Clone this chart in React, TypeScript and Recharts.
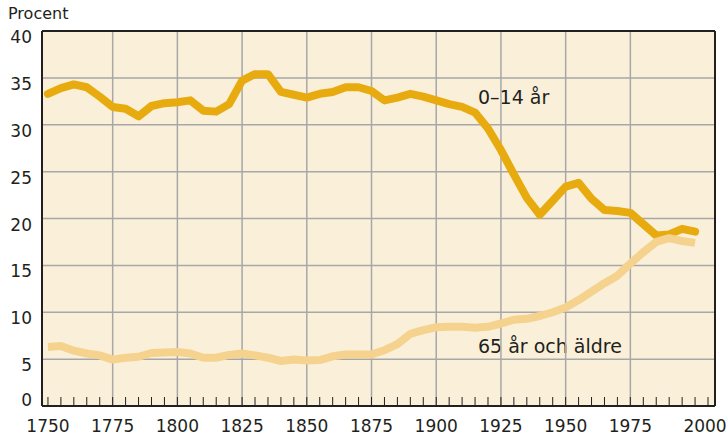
import {
  LineChart,
  Line,
  XAxis,
  YAxis,
  CartesianGrid,
  ReferenceLine,
} from 'recharts';

const YEARS = [
  1750, 1755, 1760, 1765, 1770, 1775, 1780, 1785, 1790, 1795,
  1800, 1805, 1810, 1815, 1820, 1825, 1830, 1835, 1840, 1845,
  1850, 1855, 1860, 1865, 1870, 1875, 1880, 1885, 1890, 1895,
  1900, 1905, 1910, 1915, 1920, 1925, 1930, 1935, 1940, 1945,
  1950, 1955, 1960, 1965, 1970, 1975, 1980, 1985, 1990, 1995,
  2000,
];

const AGE_0_14 = [
  33.3, 33.9, 34.3, 34.0, 33.0, 31.9, 31.7, 30.9, 32.0, 32.3,
  32.4, 32.6, 31.5, 31.4, 32.2, 34.7, 35.4, 35.4, 33.5, 33.2,
  32.9, 33.3, 33.5, 34.0, 34.0, 33.6, 32.6, 32.9, 33.3, 33.0,
  32.6, 32.2, 31.9, 31.3, 29.6, 27.3, 24.7, 22.2, 20.4, 21.9,
  23.4, 23.8, 22.1, 20.9, 20.8, 20.6, 19.4, 18.2, 18.3, 18.9,
  18.6,
];

const AGE_65_PLUS = [
  6.3, 6.4, 5.9, 5.6, 5.4, 4.95, 5.15, 5.25, 5.65, 5.7,
  5.75, 5.6, 5.15, 5.15, 5.45, 5.6, 5.4, 5.15, 4.8, 4.95,
  4.85, 4.9, 5.3, 5.5, 5.5, 5.5, 5.95, 6.6, 7.7, 8.1,
  8.4, 8.45, 8.45, 8.35, 8.45, 8.8, 9.2, 9.3, 9.6, 10.0,
  10.5, 11.3, 12.2, 13.1, 13.9, 15.2, 16.4, 17.5, 17.9, 17.6,
  17.4,
];

const Y_TICKS = [0, 5, 10, 15, 20, 25, 30, 35, 40];
const X_LABELS = [1750, 1775, 1800, 1825, 1850, 1875, 1900, 1925, 1950, 1975, 2000];
const X_MINOR = [...YEARS, 2005];
const GRID_YEARS = [1775, 1800, 1825, 1850, 1875, 1900, 1925, 1950, 1975];
const GRID_VALUES = [5, 10, 15, 20, 25, 30, 35];

const X_MIN = 1747.7;
const X_MAX = 2007.7;

const data = YEARS.map((year, i) => ({
  year,
  young: AGE_0_14[i],
  old: AGE_65_PLUS[i],
}));

const FONT = '"DejaVu Sans", sans-serif';
const TEXT = '#231f20';
const BORDER = '#231f20';
const GRID = '#a7a7a7';
const BG = '#faf0da';

function XTick(props: any) {
  const { x, y, payload } = props;
  const year = payload.value as number;
  const labelled = X_LABELS.includes(year);
  return (
    <g>
      <line x1={x} x2={x} y1={y} y2={y - 9} stroke={BORDER} strokeWidth={1} />
      {labelled && (
        <text
          x={year === 2000 ? x + 10 : x}
          y={y + 26}
          textAnchor="middle"
          fontFamily={FONT}
          fontSize={17}
          fill={TEXT}
        >
          {year}
        </text>
      )}
    </g>
  );
}

function YTick(props: any) {
  const { x, y, payload } = props;
  const v = payload.value as number;
  return (
    <text
      x={x - 10}
      y={v === 0 ? y : y + 12}
      textAnchor="end"
      fontFamily={FONT}
      fontSize={17}
      fill={TEXT}
    >
      {v}
    </text>
  );
}

export default function App() {
  return (
    <div style={{ position: 'absolute', left: 0, top: 0, width: 728, height: 438, background: '#fff' }}>
      <div
        style={{
          position: 'absolute',
          left: 8,
          top: 4,
          fontFamily: FONT,
          fontSize: 16,
          color: TEXT,
        }}
      >
        Procent
      </div>
      <LineChart
        width={728}
        height={438}
        data={data}
        margin={{ top: 31, right: 13, bottom: 0, left: 0 }}
      >
        <CartesianGrid fill={BG} stroke="none" horizontal={false} vertical={false} />
        {GRID_VALUES.map((v) => (
          <ReferenceLine key={'h' + v} y={v} stroke={GRID} strokeWidth={1.5} />
        ))}
        {GRID_YEARS.map((yr) => (
          <ReferenceLine key={'v' + yr} x={yr} stroke={GRID} strokeWidth={1.5} />
        ))}
        <ReferenceLine y={40} stroke={BORDER} strokeWidth={2} />
        <ReferenceLine x={X_MAX} stroke={BORDER} strokeWidth={2} />
        <XAxis
          dataKey="year"
          type="number"
          domain={[X_MIN, X_MAX]}
          allowDataOverflow
          ticks={X_MINOR}
          interval={0}
          tickSize={0}
          tickMargin={0}
          tickLine={false}
          axisLine={{ stroke: BORDER, strokeWidth: 2 }}
          tick={<XTick />}
          height={32}
        />
        <YAxis
          type="number"
          domain={[0, 40]}
          ticks={Y_TICKS}
          interval={0}
          tickSize={0}
          tickMargin={0}
          tickLine={false}
          axisLine={{ stroke: BORDER, strokeWidth: 2 }}
          tick={<YTick />}
          width={42}
        />
        <g>
          <rect x={476} y={85} width={80} height={26} fill={BG} />
          <text x={478} y={104} fontFamily={FONT} fontSize={19} fill={TEXT}>
            0–14 år
          </text>
          <rect x={474} y={331} width={152} height={30} fill={BG} />
          <text x={478} y={353} fontFamily={FONT} fontSize={19} fill={TEXT}>
            65 år och äldre
          </text>
        </g>
        <Line
          type="linear"
          dataKey="young"
          stroke="#e8ab0f"
          strokeWidth={8}
          strokeLinejoin="round"
          strokeLinecap="round"
          dot={false}
          activeDot={false}
          isAnimationActive={false}
        />
        <Line
          type="linear"
          dataKey="old"
          stroke="#f5d38e"
          strokeWidth={8}
          strokeLinejoin="round"
          dot={false}
          activeDot={false}
          isAnimationActive={false}
        />
      </LineChart>
    </div>
  );
}
